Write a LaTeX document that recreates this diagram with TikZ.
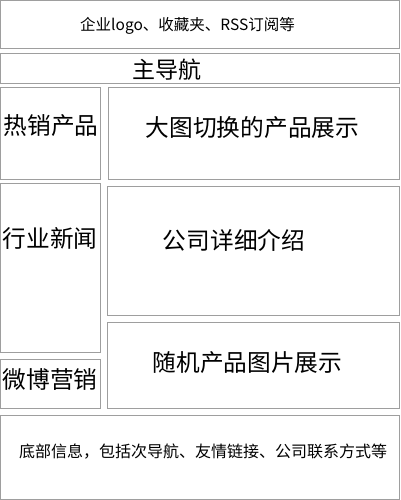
\documentclass[tikz,border=0pt]{standalone}
\usepackage{fontspec}
\setmainfont{Noto Sans CJK SC}
\begin{document}
\begin{tikzpicture}[x=1pt,y=-1pt,
  panel/.style={draw=black!38,line width=1pt,fill=white},
  big/.style={inner sep=0pt,font=\fontsize{23.7}{24}\selectfont},
  mid/.style={inner sep=0pt,font=\fontsize{23}{23}\selectfont},
  small/.style={inner sep=0pt,font=\fontsize{15.5}{16}\selectfont},
  foot/.style={inner sep=0pt,font=\fontsize{16}{16}\selectfont}]
\useasboundingbox[fill=white] (0,0) rectangle (400,500);
% boxes
\draw[panel] (0.5,0.5) rectangle (399.5,49);
\draw[panel] (0.5,53.5) rectangle (399.5,84);
\draw[panel] (0.5,87.5) rectangle (100,179.5);
\draw[panel] (108,87.5) rectangle (399.5,179.5);
\draw[panel] (0.5,183.5) rectangle (100,352);
\draw[panel] (107,186.5) rectangle (399.5,315);
\draw[panel] (0.5,359.5) rectangle (100,408);
\draw[panel] (107,322.5) rectangle (399.5,408);
\draw[panel] (0.5,415.5) rectangle (399.5,499);
% texts
\node[small] (t1) at (187.5,26) {企业logo、收藏夹、RSS订阅等};
\node[mid] (t2) at (166.5,70) {主导航};
\node[big] (t3) at (51,126) {热销产品};
\node[big] (t4) at (252.5,128) {大图切换的产品展示};
\node[big] (t5) at (50,238) {行业新闻};
\node[big] (t6) at (234,240) {公司详细介绍};
\node[big] (t7) at (50,380) {微博营销};
\node[big] (t8) at (247.5,363) {随机产品图片展示};
\node[foot] (t9) at (203,452) {底部信息，包括次导航、友情链接、公司联系方式等};
\end{tikzpicture}
\end{document}
